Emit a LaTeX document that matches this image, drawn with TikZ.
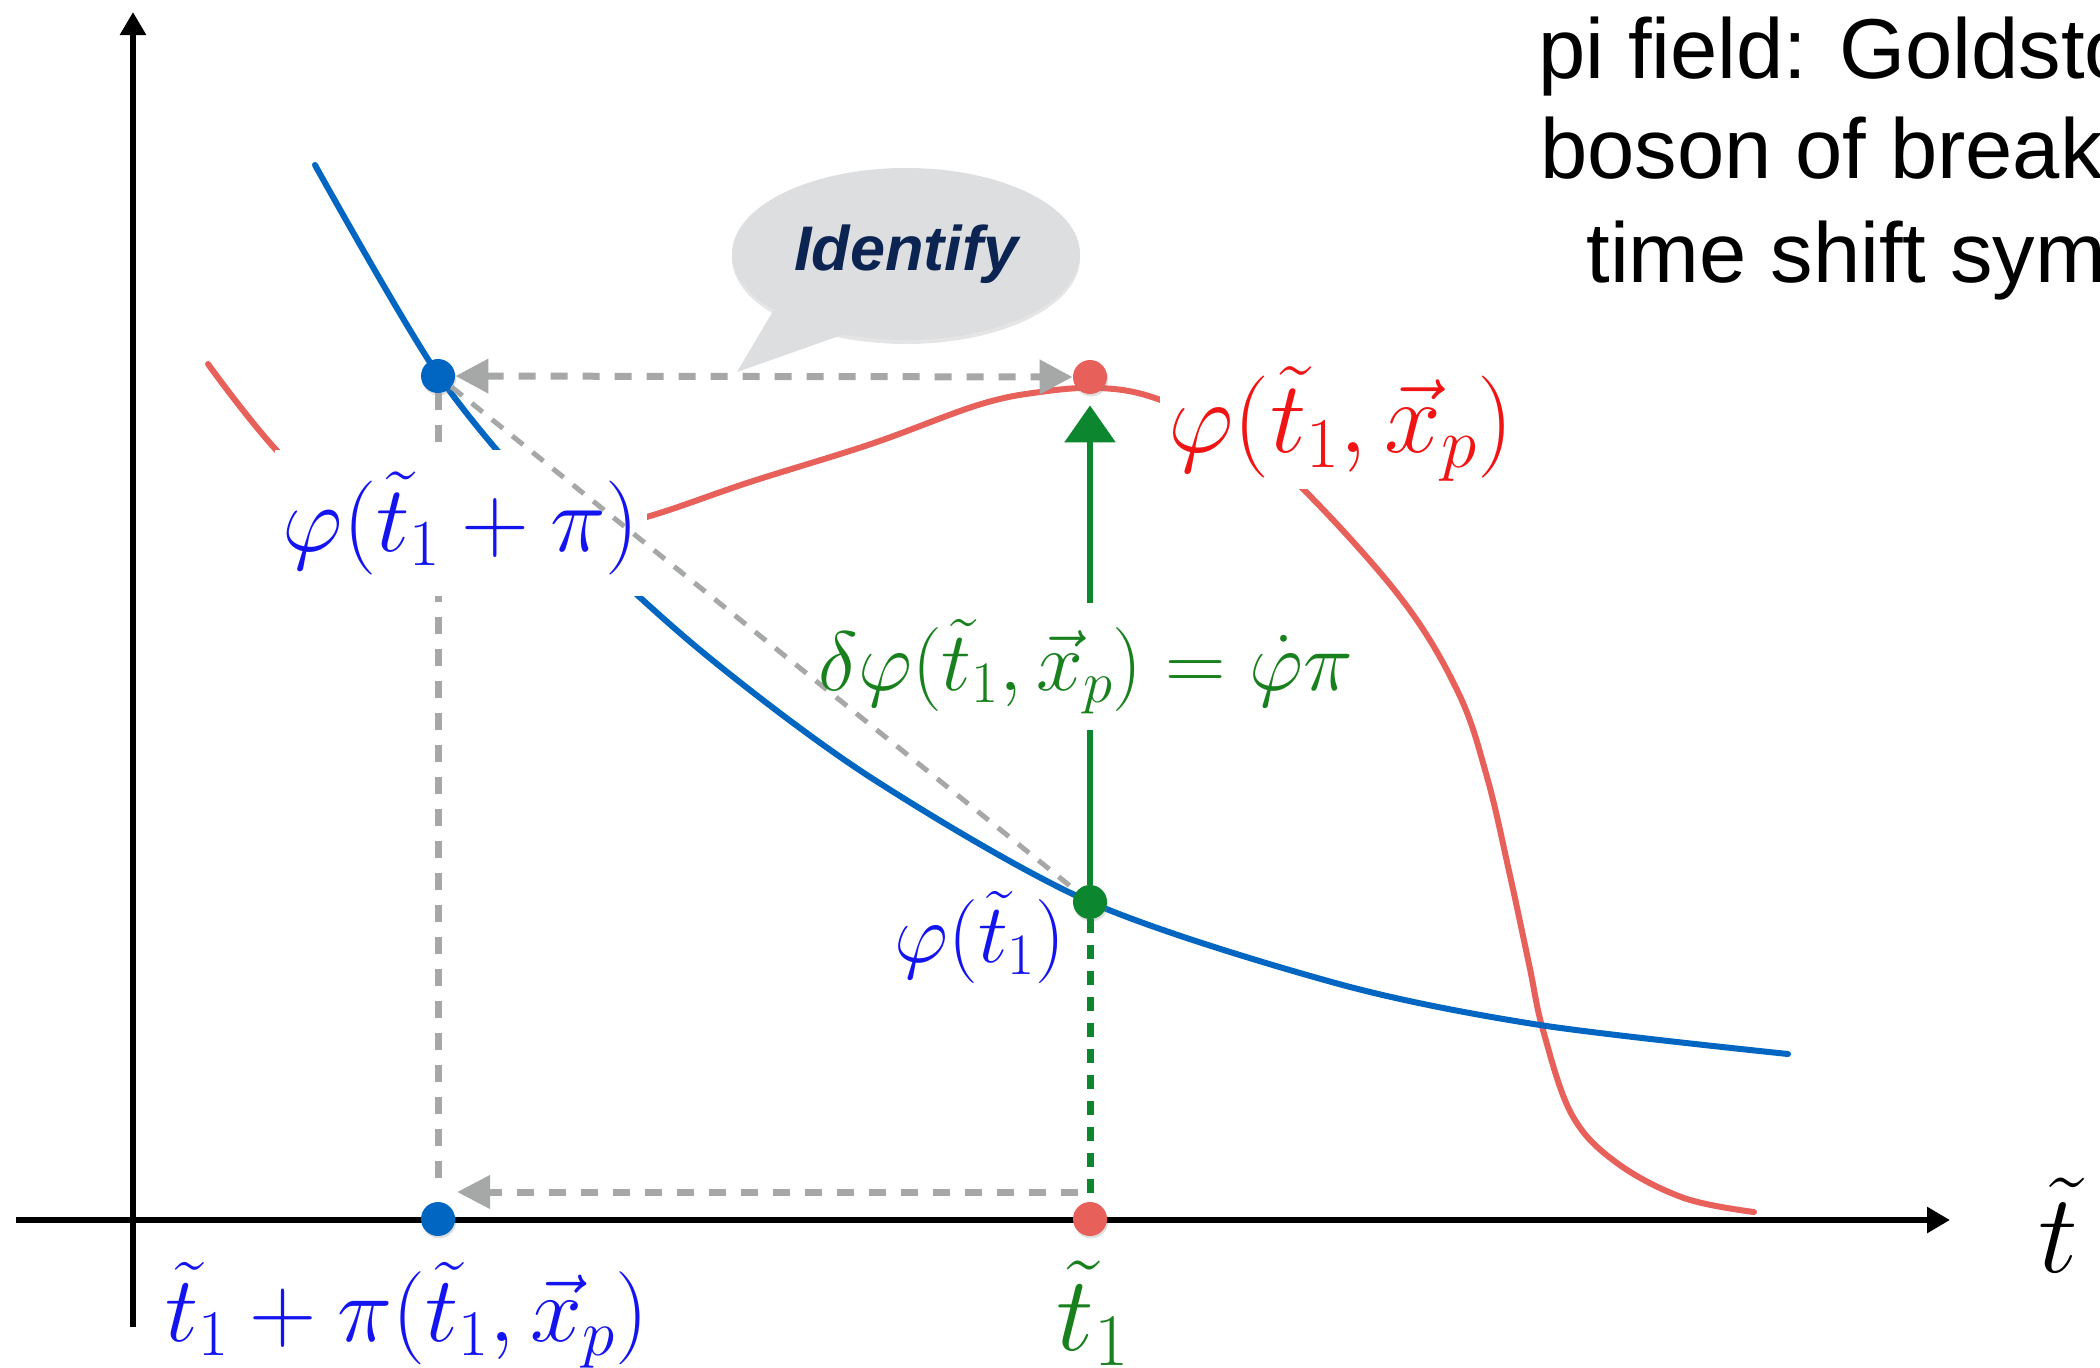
\RequirePackage{fix-cm}
\documentclass[tikz,border=0pt]{standalone}
\usepackage[no-math]{fontspec}
\newfontfamily\helv{Liberation Sans}
\usetikzlibrary{arrows.meta,shapes.geometric,shadows}
\definecolor{curveblue}{RGB}{0,102,194}
\definecolor{curvered}{RGB}{232,96,90}
\definecolor{dotgreen}{RGB}{12,135,48}
\definecolor{dashgray}{RGB}{166,168,167}
\definecolor{labblue}{RGB}{20,20,240}
\definecolor{labred}{RGB}{240,20,20}
\definecolor{labgreen}{RGB}{25,128,30}
\definecolor{navy}{RGB}{12,36,82}
\definecolor{bubblegray}{RGB}{221,222,224}
\begin{document}
\begin{tikzpicture}[x=0.5pt,y=-0.5pt,
  axis/.style={line width=3pt,-{Triangle[length=11.5pt,width=12.5pt]}},
  curve/.style={line width=3pt,line cap=round,line join=round},
  gdash/.style={dashgray,line width=3.5pt,dash pattern=on 8.5pt off 7.5pt},
  diag/.style={dashgray,line width=2.5pt,dash pattern=on 7pt off 6pt},
  dot/.style={circle,inner sep=0pt,minimum size=17pt,
    drop shadow={opacity=0.25,shadow xshift=0.6pt,shadow yshift=-1.2pt}},
  mlabel/.style={anchor=base,inner sep=0pt}]
\fill[white] (0,0) rectangle (2100,1367);
\useasboundingbox (0,0) rectangle (2100,1367);
% axes
\coordinate (xs) at (16,1220);
\coordinate (xe) at (1950,1220);
\coordinate (ys) at (133,1327);
\coordinate (ye) at (133,12);
\draw[axis] (xs) -- (xe);
\draw[axis] (ys) -- (ye);
% curves
\draw[curve,curvered] plot[smooth,tension=0.6] coordinates {(208,364) (288,462) (380,525) (480,542) (570,535) (650,516) (750,482) (871,444) (978,405) (1040,392) (1100,388) (1155,398) (1230,432) (1296,482) (1400,597) (1458,692) (1487,777) (1509,871) (1529,964) (1543,1030) (1572,1115) (1617,1163) (1684,1198) (1754,1212)};
\draw[curve,curveblue] plot[smooth] coordinates {(315,165) (439,376) (560,520) (700,650) (870,777) (1090,902) (1339,984) (1540,1025) (1788,1054)};
% dots
\node[dot,fill=curveblue] (bt) at (438,376) {};
\node[dot,fill=curvered] (rt) at (1090,377) {};
\node[dot,fill=dotgreen] (gd) at (1090,902) {};
\node[dot,fill=curveblue] (bb) at (438,1219) {};
\node[dot,fill=curvered] (rb) at (1090,1219) {};
% vertical gray dashed
\coordinate (vend) at (438,1182);
\draw[gdash] (bt) -- (vend);
% labels with white background
\node[anchor=base,fill=white,inner xsep=4pt,inner ysep=11pt,text=labblue,font=\fontsize{47}{56}\selectfont] (lbt) at (461,551) {$\varphi(\tilde t_1+\pi)$};
\node[anchor=base,fill=white,inner sep=4pt,text=labred,font=\fontsize{51}{61}\selectfont] (lrt) at (1341,452) {$\varphi(\tilde t_1,\vec x_p)$};
% diagonal
\draw[diag] (bt) -- (gd);
% horizontal arrows
\draw[gdash,{Triangle[length=16.5pt,width=16.5pt]}-{Triangle[length=16.5pt,width=16.5pt]}] (bt) -- (rt);
\coordinate (ba1) at (1078,1192);
\coordinate (ba2) at (457,1192);
\draw[gdash,-{Triangle[length=16.5pt,width=16pt]}] (ba1) -- (ba2);
% green
\node[anchor=base,inner xsep=2pt,inner ysep=8pt,text=labgreen,font=\fontsize{42}{50}\selectfont] (lg) at (1086,690) {$\delta\varphi(\tilde t_1,\vec x_p)=\dot\varphi\pi$};
\draw[dotgreen,line width=3pt] (gd) -- (gd |- lg.south);
\draw[dotgreen,line width=3pt,-{Triangle[length=18.5pt,width=25pt]},shorten >=5.5pt] (gd |- lg.north) -- (rt);
\draw[dotgreen,line width=3.5pt,dash pattern=on 7pt off 6pt] (gd) -- (rb);
% other labels
\node[mlabel,text=labblue,font=\fontsize{42}{50}\selectfont] (lgd) at (980,962) {$\varphi(\tilde t_1)$};
\node[mlabel,text=labblue,font=\fontsize{46.6}{56}\selectfont] (lbb) at (407,1341) {$\tilde t_1+\pi(\tilde t_1,\vec x_p)$};
\node[mlabel,text=labgreen,font=\fontsize{53}{63}\selectfont] (lrb) at (1093,1350) {$\tilde t_1$};
\node[mlabel,font=\fontsize{56}{67}\selectfont] (lx) at (2058,1272) {$\tilde t$};
% bubble
\node[ellipse,fill=bubblegray,minimum width=174pt,minimum height=86pt,inner sep=0pt,
  drop shadow={opacity=0.2,shadow xshift=0pt,shadow yshift=-2pt}] (bub) at (906,254) {};
\coordinate (tip) at (737,372);
\fill[bubblegray] (bub.center) -- (bub.203) -- (tip) -- (bub.232) -- cycle;
\node[text=navy,inner sep=0pt,font=\helv\fontsize{31.5}{38}\selectfont\bfseries\itshape] (idt) at (bub.center) {Identify};
% top-right text
\begin{scope}
\clip (0,0) rectangle (2100,1367);
\node[anchor=base west,inner sep=0pt,font=\helv\fontsize{42.5}{51}\selectfont] (tx1) at (1538,78) {pi field: Goldsto};
\node[anchor=base west,inner sep=0pt,font=\helv\fontsize{42.5}{51}\selectfont] (tx2) at (1540,178) {boson of break};
\node[anchor=base west,inner sep=0pt,font=\helv\fontsize{42.5}{51}\selectfont] (tx3) at (1586,282) {time shift sym};
\end{scope}
\end{tikzpicture}
\end{document}
